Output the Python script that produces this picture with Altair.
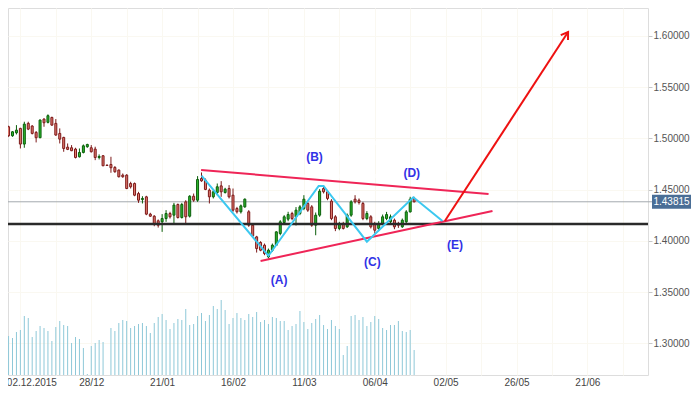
import altair as alt
import pandas as pd

# ---------------- data ----------------
idx = list(range(-1, 104))
opens = [1.5130, 1.5114, 1.5026, 1.5055, 1.5098, 1.4945, 1.5147, 1.5121, 1.5059, 1.5007,
         1.5189, 1.5157, 1.5205, 1.5147, 1.5049, 1.5010, 1.4915, 1.4909, 1.4896, 1.4821,
         1.4863, 1.4919, 1.4909, 1.4896, 1.4814, 1.4831, 1.4740, 1.4746, 1.4717, 1.4691,
         1.4642, 1.4642, 1.4560, 1.4560, 1.4462, 1.4404, 1.4430, 1.4261, 1.4241, 1.4196,
         1.4186, 1.4218, 1.4267, 1.4251, 1.4355, 1.4228, 1.4381, 1.4241, 1.4436, 1.4397,
         1.4609, 1.4593, 1.4495, 1.4430, 1.4472, 1.4537, 1.4472, 1.4511, 1.4446, 1.4316,
         1.4284, 1.4332, 1.4284, 1.4153, 1.4039, 1.3984, 1.3958, 1.3844, 1.3909, 1.3958,
         1.4072, 1.4179, 1.4212, 1.4267, 1.4235, 1.4267, 1.4316, 1.4365, 1.4332, 1.4153,
         1.4251, 1.4511, 1.4479, 1.4388, 1.4235, 1.4121, 1.4169, 1.4137, 1.4251, 1.4407,
         1.4397, 1.4365, 1.4218, 1.4235, 1.4160, 1.4121, 1.4169, 1.4218, 1.4186, 1.4202,
         1.4169, 1.4137, 1.4186, 1.4283, 1.4414]
highs = [1.5140, 1.5124, 1.5072, 1.5130, 1.5104, 1.5163, 1.5163, 1.5130, 1.5072, 1.5186,
         1.5196, 1.5235, 1.5212, 1.5189, 1.5098, 1.5016, 1.4951, 1.4935, 1.4909, 1.4902,
         1.4941, 1.4948, 1.4935, 1.4919, 1.4844, 1.4837, 1.4743, 1.4821, 1.4730, 1.4697,
         1.4658, 1.4651, 1.4577, 1.4570, 1.4479, 1.4436, 1.4440, 1.4274, 1.4251, 1.4209,
         1.4261, 1.4300, 1.4284, 1.4371, 1.4365, 1.4371, 1.4397, 1.4446, 1.4462, 1.4632,
         1.4668, 1.4609, 1.4511, 1.4495, 1.4560, 1.4583, 1.4518, 1.4544, 1.4511, 1.4332,
         1.4355, 1.4414, 1.4300, 1.4170, 1.4049, 1.3997, 1.3974, 1.3925, 1.3974, 1.4094,
         1.4202, 1.4251, 1.4284, 1.4284, 1.4330, 1.4349, 1.4446, 1.4381, 1.4349, 1.4277,
         1.4505, 1.4534, 1.4495, 1.4407, 1.4251, 1.4186, 1.4186, 1.4267, 1.4397, 1.4446,
         1.4414, 1.4381, 1.4290, 1.4251, 1.4186, 1.4192, 1.4257, 1.4283, 1.4257, 1.4218,
         1.4186, 1.4218, 1.4300, 1.4430, 1.4430]
lows = [1.5090, 1.5016, 1.5016, 1.5039, 1.4902, 1.4909, 1.5081, 1.5039, 1.4961, 1.5003,
        1.5114, 1.5147, 1.5124, 1.5026, 1.4951, 1.4870, 1.4886, 1.4876, 1.4805, 1.4814,
        1.4854, 1.4909, 1.4863, 1.4788, 1.4795, 1.4730, 1.4733, 1.4665, 1.4665, 1.4619,
        1.4616, 1.4505, 1.4511, 1.4436, 1.4371, 1.4365, 1.4251, 1.4235, 1.4143, 1.4130,
        1.4088, 1.4186, 1.4218, 1.4169, 1.4218, 1.4218, 1.4169, 1.4228, 1.4381, 1.4381,
        1.4577, 1.4495, 1.4365, 1.4414, 1.4446, 1.4430, 1.4462, 1.4414, 1.4284, 1.4267,
        1.4267, 1.4323, 1.4137, 1.4039, 1.3886, 1.3899, 1.3860, 1.3827, 1.3893, 1.3951,
        1.4055, 1.4160, 1.4192, 1.4202, 1.4150, 1.4251, 1.4300, 1.4283, 1.4137, 1.4055,
        1.4235, 1.4463, 1.4397, 1.4202, 1.4095, 1.4104, 1.4111, 1.4127, 1.4235, 1.4365,
        1.4355, 1.4202, 1.4202, 1.4121, 1.4072, 1.4095, 1.4153, 1.4202, 1.4169, 1.4114,
        1.4127, 1.4127, 1.4169, 1.4277, 1.4375]
closes = [1.5098, 1.5026, 1.5065, 1.5081, 1.4945, 1.5140, 1.5091, 1.5049, 1.5007, 1.5179,
          1.5153, 1.5222, 1.5130, 1.5033, 1.4993, 1.4902, 1.4893, 1.4880, 1.4814, 1.4863,
          1.4928, 1.4941, 1.4870, 1.4814, 1.4824, 1.4733, 1.4736, 1.4714, 1.4675, 1.4626,
          1.4626, 1.4511, 1.4528, 1.4446, 1.4397, 1.4414, 1.4261, 1.4241, 1.4169, 1.4153,
          1.4218, 1.4267, 1.4235, 1.4349, 1.4228, 1.4355, 1.4235, 1.4436, 1.4397, 1.4599,
          1.4586, 1.4502, 1.4430, 1.4479, 1.4528, 1.4479, 1.4505, 1.4430, 1.4300, 1.4284,
          1.4342, 1.4407, 1.4153, 1.4049, 1.3925, 1.3909, 1.3876, 1.3909, 1.3958, 1.4088,
          1.4186, 1.4235, 1.4257, 1.4218, 1.4300, 1.4332, 1.4407, 1.4300, 1.4153, 1.4251,
          1.4485, 1.4479, 1.4414, 1.4218, 1.4121, 1.4169, 1.4121, 1.4251, 1.4381, 1.4381,
          1.4375, 1.4218, 1.4267, 1.4137, 1.4104, 1.4169, 1.4235, 1.4257, 1.4235, 1.4137,
          1.4153, 1.4202, 1.4283, 1.4407, 1.43815]
volumes = [110, 117, 111, 129, 135, 177, 171, 114, 132, 147,
           141, 132, 102, 144, 162, 150, 147, 96, 114, 108,
           81, 3, 87, 96, 105, 99, 0, 141, 132, 156,
           165, 162, 141, 147, 153, 156, 147, 126, 156, 174,
           183, 165, 138, 156, 168, 165, 198, 150, 153, 177,
           186, 162, 180, 207, 198, 225, 195, 153, 171, 186,
           171, 165, 183, 174, 189, 159, 165, 153, 174, 171,
           162, 162, 135, 147, 153, 192, 159, 138, 156, 168,
           180, 150, 138, 165, 147, 138, 60, 87, 177, 180,
           165, 174, 147, 159, 177, 168, 141, 135, 150, 150,
           162, 132, 129, 135, 75]

tick_idx = [3, 21, 39, 57, 75, 93, 111, 129, 147]
tick_labels = ["02.12.2015", "28/12", "21/01", "16/02", "11/03", "06/04", "02/05", "26/05", "21/06"]
grid_idx = list(range(3, 160, 9))
price_ticks = [1.30, 1.35, 1.40, 1.45, 1.50, 1.55, 1.60]

support_level = 1.4165
last_price = 1.43815

tri_line = ["upper", "upper", "lower", "lower"]
tri_i = [48.9, 121.9, 64.0, 122.9]
tri_p = [1.4692, 1.4458, 1.3804, 1.4292]

zig_i = [49.0, 66.0, 78.75, 80.0, 91.0, 102.8, 110.2]
zig_p = [1.4636, 1.3855, 1.4536, 1.4536, 1.3992, 1.4426, 1.4194]

arrow_i = [110.8, 142.1]
arrow_p = [1.4194, 1.6039]

wave_labels = ["(A)", "(B)", "(C)", "(D)", "(E)"]
wave_i = [68.7, 77.7, 92.4, 102.4, 113.4]
wave_p = [1.3618, 1.4819, 1.3794, 1.4663, 1.3960]

watermark_1 = "GBPUSD,D1"
watermark_2 = "Great Britain Pound vs US Dollar"

# ---------------- frames ----------------
candles = pd.DataFrame({"i": idx, "open": opens, "high": highs, "low": lows,
                        "close": closes, "volume": volumes})
candles["dir"] = ["up" if c >= o else "down" for o, c in zip(opens, closes)]
tri_df = pd.DataFrame({"line": tri_line, "i": tri_i, "p": tri_p})
zig_df = pd.DataFrame({"i": zig_i, "p": zig_p})
arrow_df = pd.DataFrame({"i": arrow_i, "p": arrow_p})
tip_df = arrow_df.iloc[[1]]
lab_df = pd.DataFrame({"t": wave_labels, "i": wave_i, "p": wave_p})
last_df = pd.DataFrame({"p": [last_price], "t": [f"{last_price:.5f}"]})
sup_df = pd.DataFrame({"p": [support_level]})

# ---------------- scales / axes ----------------
PLOT_W = 640
x_scale = alt.Scale(domain=[1.125, 1.125 + PLOT_W / 4], nice=False, zero=False)
y_scale = alt.Scale(domain=[1.26907, 1.62733], nice=False, zero=False)

label_expr = " : ".join(f"datum.value == {v} ? '{s}'" for v, s in zip(tick_idx, tick_labels)) + " : ''"
x_axis = alt.Axis(values=grid_idx, labelExpr=label_expr, grid=True, ticks=False, tickSize=0,
                  labelPadding=2, domain=False, title=None, labelFlush=False, labelOverlap=False,
                  labelOffset={"condition": {"test": f"datum.value == {tick_idx[0]}", "value": 11}, "value": 0},
                  labelColor="#444444", labelFontSize=10, labelFont="Liberation Sans",
                  gridColor="#faf8f1")
y_axis = alt.Axis(orient="right", values=price_ticks, format=".5f", tickSize=4, tickColor="#c8c8c8",
                  labelPadding=1, title=None, grid=True, gridColor="#faf8f1", domain=False,
                  labelColor="#555555", labelFontSize=10, labelFont="Liberation Sans")


def X(field="i"):
    return alt.X(field, type="quantitative", scale=x_scale, axis=x_axis)


def Y(field):
    return alt.Y(field, type="quantitative", scale=y_scale, axis=y_axis)


dir_stroke = alt.Scale(domain=["up", "down"], range=["#0b5e0b", "#7d1a1a"])
dir_fill = alt.Scale(domain=["up", "down"], range=["#2db82d", "#e07b6e"])

# ---------------- layers ----------------
volume = alt.Chart(candles).mark_rule(color="#8ec8d8", strokeWidth=1, clip=True).encode(
    x=X(), y=alt.Y("volume:Q", scale=alt.Scale(domain=[0, 1101]), axis=None), y2=alt.datum(0))

wm1 = alt.Chart(pd.DataFrame({"t": [watermark_1]})).mark_text(
    font="Liberation Sans", fontSize=54, color="white", opacity=0.6, align="center",
    baseline="alphabetic").encode(text="t:N", x=alt.value(319), y=alt.value(170))
wm2 = alt.Chart(pd.DataFrame({"t": [watermark_2]})).mark_text(
    font="Liberation Sans", fontSize=28, color="white", opacity=0.6, align="center",
    baseline="alphabetic").encode(text="t:N", x=alt.value(319), y=alt.value(206))

last_line = alt.Chart(last_df).mark_rule(color="#a3a9ae", strokeWidth=1).encode(
    y=Y("p"), x=alt.value(0), x2=alt.value(PLOT_W + 4))

wicks = alt.Chart(candles).mark_rule(strokeWidth=1, clip=True).encode(
    x=X(), y=Y("low"), y2="high", stroke=alt.Stroke("dir:N", scale=dir_stroke, legend=None))
bodies = alt.Chart(candles).mark_bar(width=2, strokeWidth=1, clip=True).encode(
    x=X(), y=Y("open"), y2="close",
    fill=alt.Fill("dir:N", scale=dir_fill, legend=None),
    stroke=alt.Stroke("dir:N", scale=dir_stroke, legend=None))

support = alt.Chart(sup_df).mark_rule(color="#2a2a2a", strokeWidth=2.5).encode(y=Y("p"))

triangle = alt.Chart(tri_df).mark_line(color="#ef2557", strokeWidth=2).encode(
    x=X(), y=Y("p"), detail="line:N")
zigzag = alt.Chart(zig_df).mark_line(color="#3cc8f0", strokeWidth=2).encode(x=X(), y=Y("p"))
arrow = alt.Chart(arrow_df).mark_line(color="#ee1111", strokeWidth=2).encode(x=X(), y=Y("p"))
tip = alt.Chart(tip_df).mark_point(shape="M-0.55,0.85L0,0L0.55,0.85", filled=False, strokeWidth=2,
                                   size=250, angle=33.5, color="#ee1111", opacity=1).encode(
    x=X(), y=Y("p"))

labels = alt.Chart(lab_df).mark_text(font="Liberation Sans", fontSize=12, fontWeight="bold",
                                     color="#3232e6").encode(x=X(), y=Y("p"), text="t:N")

box = alt.Chart(last_df).mark_rule(color="#4a6e96", strokeWidth=14, strokeCap="butt").encode(
    y=Y("p"), x=alt.value(PLOT_W + 4), x2=alt.value(PLOT_W + 43))
box_text = alt.Chart(last_df).mark_text(font="Liberation Sans", fontSize=10, color="white").encode(
    y=Y("p"), x=alt.value(PLOT_W + 23.5), text="t:N")

price = alt.layer(wm1, wm2, last_line, wicks, bodies, support, triangle, zigzag, arrow, tip,
                  labels, box, box_text)

chart = alt.layer(volume, price).resolve_scale(y="independent", fill="independent",
                                                stroke="independent").properties(
    width=PLOT_W, height=367,
    padding={"left": 0, "top": 0, "right": 44, "bottom": 11},
    autosize=alt.AutoSizeParams(type="none")
).configure_view(fill="#f0ebd6", stroke=None).configure(background="white")

chart.save("out.html", embed_options={"renderer": "svg", "actions": False})
